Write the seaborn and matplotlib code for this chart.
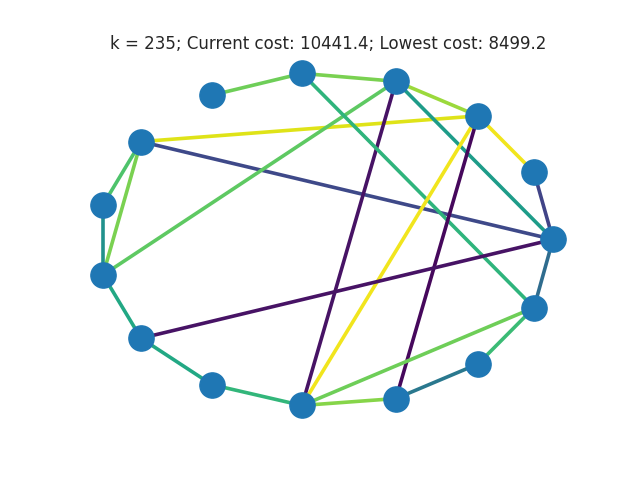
import matplotlib
matplotlib.use("Agg")
import matplotlib.pyplot as plt
import seaborn as sns
import numpy as np

sns.set_style("white")

node_x = [212, 302, 396, 478, 534, 553, 534, 478, 396, 302, 212, 141, 103, 103, 141]
node_y = [96, 74, 82, 117, 174, 242, 311, 368, 403, 410, 389, 342, 278, 207, 143]

edges = [(0, 1), (1, 2), (2, 3), (3, 4), (4, 5), (5, 6), (6, 7), (7, 8), (8, 9), (9, 10),
         (10, 11), (11, 12), (12, 13), (13, 14), (14, 3), (14, 5), (14, 12), (12, 2), (2, 9),
         (2, 5), (1, 6), (3, 9), (3, 8), (11, 5), (9, 6)]
edge_weight = [0.78, 0.8, 0.85, 0.98, 0.2, 0.35, 0.68, 0.4, 0.82, 0.66,
               0.6, 0.6, 0.5, 0.72, 0.95, 0.22, 0.8, 0.75, 0.05,
               0.55, 0.65, 0.98, 0.02, 0.05, 0.78]

fig, ax = plt.subplots(figsize=(6.4, 4.8), dpi=100)
cmap = plt.get_cmap("viridis")
for (a, b), w in zip(edges, edge_weight):
    ax.plot([node_x[a], node_x[b]], [node_y[a], node_y[b]], color=cmap(w), lw=2.6, zorder=1)
ax.scatter(node_x, node_y, s=330, color="#1f77b4", zorder=2)

ax.set_xlim(80, 576)
ax.set_ylim(432, 58)
ax.axis("off")
ax.set_title("k = 235; Current cost: 10441.4; Lowest cost: 8499.2")
fig.savefig("out.png")
